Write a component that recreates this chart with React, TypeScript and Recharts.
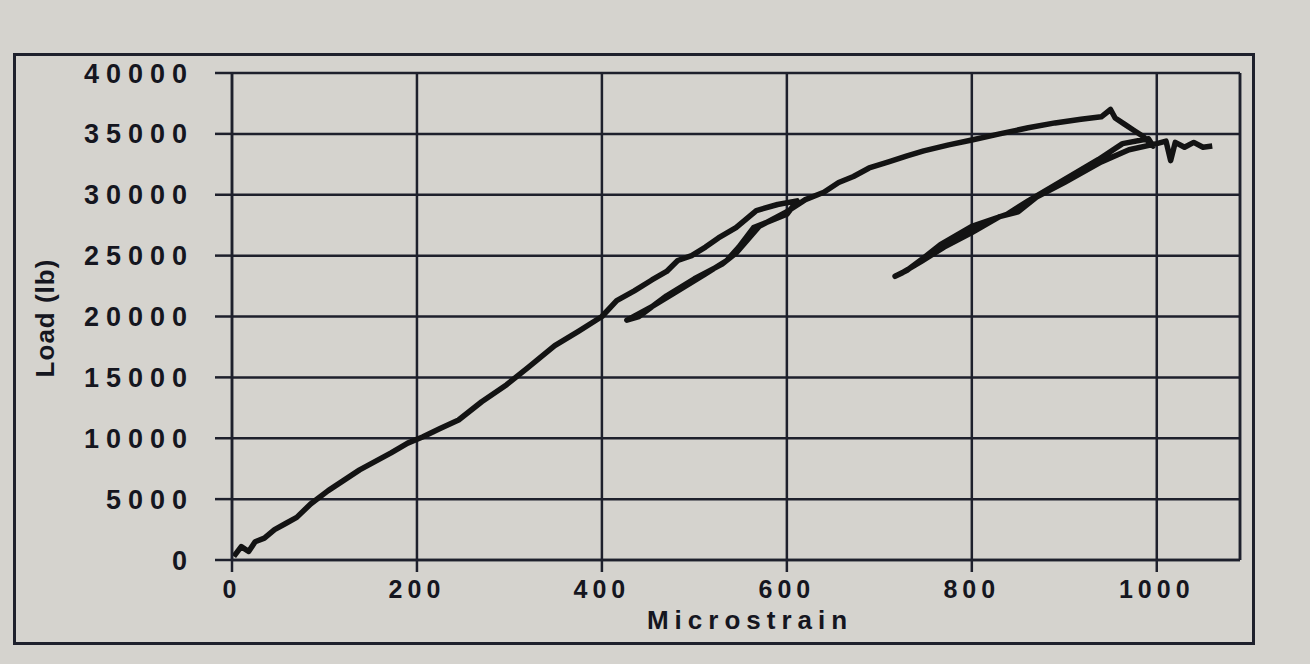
import React from "react";
import {
  LineChart,
  Line,
  XAxis,
  YAxis,
  CartesianGrid,
  ReferenceLine,
} from "recharts";

// [microstrain, load (lb)], in drawing order
const firstLoading = [
  [2, 300], [10, 1100], [18, 700], [25, 1500], [35, 1800], [46, 2500],
  [58, 3000], [70, 3500], [85, 4600], [104, 5700], [120, 6500], [138, 7400],
  [155, 8100], [172, 8800], [190, 9600], [206, 10100], [225, 10800],
  [245, 11500], [270, 13000], [297, 14400], [320, 15800], [349, 17600],
  [375, 18800], [400, 20000], [416, 21300], [435, 22100], [454, 23000],
  [470, 23700], [482, 24600], [497, 25000], [512, 25700], [526, 26450],
  [545, 27300], [567, 28700], [590, 29200], [611, 29500],
];
const firstUnload = [
  [600, 28400], [564, 27300], [548, 25700], [535, 24600], [512, 23500],
  [482, 22100], [454, 20800], [427, 19700],
];
const firstReload = [
  [440, 20000], [470, 21700], [500, 23100], [530, 24300], [545, 25200],
  [570, 27400], [600, 28600], [620, 29600],
];
const toPeak = [
  [640, 30200], [656, 31000], [672, 31500], [689, 32200], [710, 32700],
  [730, 33200], [748, 33600], [775, 34100], [800, 34500], [830, 35000],
  [861, 35500], [890, 35900], [918, 36200], [940, 36400], [950, 37000],
  [955, 36300], [965, 35800], [975, 35300], [985, 34800], [996, 34000],
];
const secondUnload = [
  [991, 34600], [963, 34200], [937, 32900], [899, 31200], [861, 29500],
  [838, 28400], [800, 27400], [766, 25900], [746, 24700], [730, 23800],
  [717, 23300],
];
const secondReload = [
  [725, 23600], [745, 24500], [770, 25700], [800, 26900], [830, 28200],
  [850, 28600], [870, 29800], [900, 31000], [940, 32700], [970, 33700],
  [1000, 34200],
];
const plateau = [
  [1010, 34400], [1015, 32800], [1020, 34300], [1030, 33900],
  [1040, 34300], [1050, 33900], [1060, 34000],
];

const xTicks = [0, 200, 400, 600, 800, 1000];
const yTicks = [0, 5000, 10000, 15000, 20000, 25000, 30000, 35000, 40000];
const xMax = 1090;

const trace = [
  ...firstLoading,
  ...firstUnload,
  ...firstReload,
  ...toPeak,
  ...secondUnload,
  ...secondReload,
  ...plateau,
].map(([strain, load]) => ({ strain, load }));

const ink = "#1e202c";
const tickFont = {
  fill: "#15161f",
  fontSize: 26,
  fontWeight: 700,
  fontFamily: "'Liberation Sans', Arial, sans-serif",
};

export default function App() {
  return (
    <div
      style={{
        position: "absolute",
        left: 0,
        top: 0,
        width: 1310,
        height: 664,
        background: "#d5d3ce",
        overflow: "hidden",
      }}
    >
      <div
        style={{
          position: "absolute",
          left: 13,
          top: 53,
          width: 1236,
          height: 586,
          border: `3px solid ${ink}`,
        }}
      />
      <div style={{ position: "absolute", left: 0, top: 0 }}>
        <LineChart
          width={1310}
          height={664}
          data={trace}
          margin={{ top: 73, right: 70, bottom: 74, left: 20 }}
        >
          <CartesianGrid stroke={ink} strokeWidth={2.5} />
          <XAxis
            type="number"
            dataKey="strain"
            domain={[0, xMax]}
            ticks={xTicks}
            interval={0}
            height={30}
            tickSize={12}
            tickMargin={8}
            axisLine={{ stroke: ink, strokeWidth: 2.5 }}
            tickLine={{ stroke: ink, strokeWidth: 2.5 }}
            tick={{ ...tickFont, fontSize: 25, letterSpacing: 5 }}
          />
          <YAxis
            type="number"
            domain={[0, 40000]}
            ticks={yTicks}
            interval={0}
            width={212}
            tickSize={17}
            tickMargin={21}
            axisLine={{ stroke: ink, strokeWidth: 2.5 }}
            tickLine={{ stroke: ink, strokeWidth: 2.5 }}
            tick={{ ...tickFont, fontSize: 27, letterSpacing: 7 }}
          />
          <ReferenceLine x={xMax} stroke={ink} strokeWidth={2.5} />
          <Line
            type="linear"
            dataKey="load"
            stroke="#131313"
            strokeWidth={5.5}
            strokeLinejoin="round"
            dot={false}
            isAnimationActive={false}
          />
        </LineChart>
      </div>
      <div
        style={{
          position: "absolute",
          left: 640,
          top: 607,
          width: 220,
          lineHeight: "26px",
          textAlign: "center",
          fontFamily: "'Liberation Sans', Arial, sans-serif",
          fontWeight: 700,
          fontSize: 26,
          letterSpacing: 6,
          color: "#15161f",
        }}
      >
        Microstrain
      </div>
      <div
        style={{
          position: "absolute",
          left: 45,
          top: 318,
          transform: "translate(-50%, -50%) rotate(-90deg)",
          whiteSpace: "nowrap",
          fontFamily: "'Liberation Sans', Arial, sans-serif",
          fontWeight: 700,
          fontSize: 26,
          letterSpacing: 1,
          color: "#15161f",
        }}
      >
        Load (lb)
      </div>
    </div>
  );
}
